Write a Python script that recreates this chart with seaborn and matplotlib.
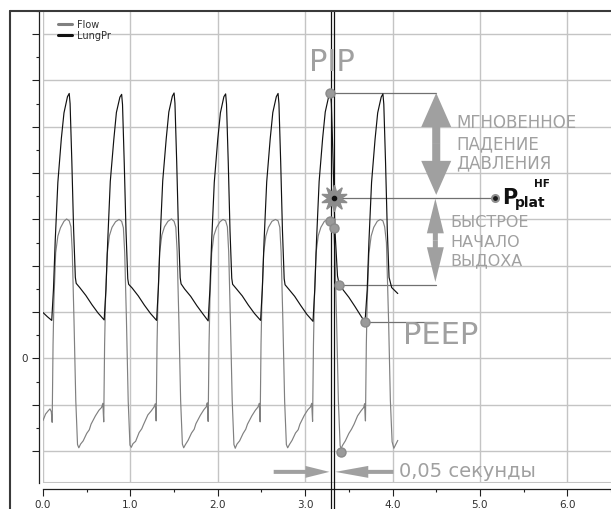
import matplotlib
matplotlib.use("Agg")
import matplotlib.pyplot as plt
from matplotlib.lines import Line2D
from matplotlib.patches import FancyArrowPatch
import seaborn as sns

# ---- traces (time in s, arbitrary units) ----
press_t = [0.00, 0.05, 0.10,
           0.12, 0.14, 0.17, 0.21, 0.24, 0.28, 0.30, 0.31, 0.33, 0.35, 0.37, 0.38, 0.42, 0.49, 0.56, 0.63, 0.70,
           0.72, 0.74, 0.77, 0.81, 0.84, 0.88, 0.90, 0.91, 0.93, 0.95, 0.97, 0.98, 1.02, 1.09, 1.16, 1.23, 1.30,
           1.32, 1.34, 1.37, 1.41, 1.44, 1.48, 1.50, 1.51, 1.53, 1.55, 1.57, 1.58, 1.62, 1.69, 1.76, 1.83, 1.89,
           1.91, 1.93, 1.96, 2.00, 2.03, 2.07, 2.09, 2.10, 2.12, 2.14, 2.16, 2.17, 2.21, 2.28, 2.35, 2.42, 2.49,
           2.51, 2.53, 2.56, 2.60, 2.63, 2.67, 2.69, 2.70, 2.72, 2.74, 2.76, 2.77, 2.81, 2.88, 2.95, 3.02, 3.09,
           3.11, 3.13, 3.16, 3.20, 3.23, 3.27, 3.29, 3.30, 3.32, 3.34, 3.37, 3.39, 3.43, 3.50, 3.57, 3.63, 3.685,
           3.71, 3.73, 3.76, 3.80, 3.83, 3.87, 3.89, 3.90, 3.92, 3.94, 3.96, 3.99, 4.06]
press_v = [9.9, 9.0, 8.2,
           15.0, 25.5, 38.0, 47.5, 53.0, 56.5, 57.2, 55.0, 42.5, 28.0, 17.5, 16.2, 15.3, 13.6, 11.6, 9.8, 8.3,
           14.8, 25.0, 38.2, 47.2, 53.1, 56.4, 57.0, 54.8, 42.0, 27.5, 17.2, 16.0, 15.2, 13.5, 11.5, 9.7, 8.2,
           15.1, 25.6, 38.3, 47.4, 53.2, 56.6, 57.3, 55.1, 42.4, 27.8, 17.4, 16.1, 15.0, 13.4, 11.4, 9.6, 8.1,
           14.9, 25.3, 38.0, 47.3, 53.0, 56.5, 57.1, 54.9, 42.3, 27.6, 17.3, 16.0, 15.1, 13.5, 11.5, 9.7, 8.2,
           15.0, 25.4, 38.1, 47.4, 53.1, 56.5, 57.2, 55.0, 42.4, 27.7, 17.2, 15.9, 15.0, 13.4, 11.4, 9.5, 8.0,
           14.9, 25.4, 38.2, 47.5, 53.2, 56.6, 57.3, 55.0, 42.5, 28.0, 17.8, 15.9, 14.9, 13.2, 11.2, 9.4, 7.8,
           14.8, 25.3, 38.0, 47.3, 53.0, 56.4, 57.1, 54.9, 42.3, 27.7, 17.5, 15.3, 14.0]

flow_t = [0.00, 0.03, 0.06, 0.08, 0.095, 0.105,
          0.115, 0.125, 0.145, 0.17, 0.20, 0.24, 0.27, 0.30, 0.32, 0.335, 0.355, 0.375, 0.395, 0.41, 0.43, 0.46,
          0.50, 0.53, 0.55, 0.60, 0.64, 0.67, 0.685, 0.695,
          0.705, 0.715, 0.735, 0.76, 0.79, 0.83, 0.87, 0.90, 0.92, 0.935, 0.955, 0.975, 0.995, 1.01, 1.03, 1.06,
          1.10, 1.13, 1.15, 1.20, 1.24, 1.27, 1.285, 1.295,
          1.305, 1.315, 1.335, 1.36, 1.39, 1.43, 1.47, 1.50, 1.52, 1.535, 1.555, 1.575, 1.595, 1.61, 1.63, 1.66,
          1.70, 1.73, 1.75, 1.80, 1.84, 1.87, 1.88, 1.89,
          1.90, 1.91, 1.93, 1.955, 1.985, 2.025, 2.06, 2.09, 2.11, 2.125, 2.145, 2.165, 2.185, 2.20, 2.22, 2.25,
          2.29, 2.32, 2.34, 2.39, 2.43, 2.46, 2.475, 2.485,
          2.495, 2.505, 2.525, 2.55, 2.58, 2.62, 2.66, 2.69, 2.71, 2.725, 2.745, 2.765, 2.785, 2.80, 2.82, 2.85,
          2.89, 2.92, 2.94, 2.99, 3.03, 3.06, 3.075, 3.085,
          3.095, 3.105, 3.125, 3.15, 3.18, 3.22, 3.26, 3.29, 3.325, 3.34, 3.36, 3.38, 3.40, 3.41, 3.43, 3.46,
          3.50, 3.53, 3.56, 3.60, 3.64, 3.67, 3.68, 3.69,
          3.70, 3.71, 3.73, 3.755, 3.785, 3.825, 3.86, 3.89, 3.91, 3.93, 3.955, 3.975, 3.995, 4.015, 4.06]
flow_v = [-13.4, -12.0, -11.3, -10.9, -11.5, -13.8,
          3.0, 12.5, 22.8, 26.4, 28.2, 29.6, 30.1, 29.7, 28.4, 23.0, 8.0, -9.0, -18.6, -19.3, -18.5, -17.8,
          -16.2, -15.4, -14.2, -12.4, -11.2, -10.6, -9.7, -13.7,
          3.0, 12.3, 22.6, 26.5, 28.3, 29.5, 30.0, 29.6, 28.2, 22.8, 8.2, -9.2, -18.7, -19.2, -18.4, -17.9,
          -16.0, -15.2, -14.3, -12.2, -11.3, -10.5, -9.8, -13.5,
          3.2, 12.6, 22.9, 26.6, 28.4, 29.6, 30.1, 29.6, 28.3, 23.1, 8.1, -9.1, -18.5, -19.3, -18.6, -17.7,
          -16.1, -15.3, -14.1, -12.3, -11.1, -10.4, -9.6, -13.6,
          3.0, 12.4, 22.7, 26.5, 28.2, 29.5, 30.0, 29.7, 28.4, 23.0, 8.0, -9.0, -18.6, -19.4, -18.5, -17.8,
          -16.2, -15.3, -14.2, -12.4, -11.2, -10.5, -9.7, -13.7,
          3.1, 12.5, 22.8, 26.4, 28.3, 29.6, 30.0, 29.7, 28.3, 22.9, 8.1, -9.1, -18.6, -19.3, -18.6, -17.7,
          -16.1, -15.4, -14.2, -12.3, -11.1, -10.5, -9.7, -13.6,
          3.0, 12.4, 22.8, 26.5, 28.3, 29.6, 30.0, 29.7, 28.4, 23.0, 8.0, -9.0, -18.8, -19.5, -18.7, -17.8,
          -16.2, -15.3, -14.2, -12.4, -11.3, -10.6, -9.8, -13.5,
          3.0, 12.4, 22.7, 26.4, 28.3, 29.6, 30.0, 29.7, 28.4, 25.0, 8.0, -9.0, -18.0, -19.4, -17.7]

x_ticks = [0, 1, 2, 3, 4, 5, 6]
x_labels = ["0.0", "1.0", "2.0", "3.0", "4.0", "5.0", "6.0"]
y_ticks = [-20, -10, 0, 10, 20, 30, 40, 50, 60, 70]
y_labels = ["", "", "0", "", "", "", "", "", "", ""]

# annotation points (picked on the 6th breath)
dot_t = [3.289, 3.289, 3.333, 3.388, 3.685, 3.41]
dot_v = [57.3, 29.7, 28.2, 15.9, 7.8, -20.3]
star_t, star_v = 3.333, 34.7
pplat_t = 5.17
cursor_t = [3.296, 3.333]
leaders = [(3.29, 4.50, 57.3), (3.34, 5.17, 34.7), (3.39, 4.50, 15.9), (3.69, 4.51, 7.8)]

grey = "#a0a0a0"

sns.set_theme(style="ticks")
plt.rcParams["font.family"] = ["DejaVu Sans"]

fig = plt.figure(figsize=(6.11, 5.09), dpi=100)
ax = fig.add_axes([43 / 611, 26 / 509, 568 / 611, 472 / 509])

sns.lineplot(x=flow_t, y=flow_v, color="#808080", lw=0.85, label="Flow", ax=ax, zorder=3)
sns.lineplot(x=press_t, y=press_v, color="#111111", lw=0.85, label="LungPr", ax=ax, zorder=4)

ax.set_xlim(0, 6.253)
ax.set_ylim(-26.9, 74.74)
ax.set_xticks(x_ticks)
ax.set_xticklabels(x_labels)
ax.set_xticks([i + 0.5 for i in x_ticks], minor=True)
ax.set_yticks(y_ticks)
ax.set_yticklabels(y_labels)
ax.set_yticks([v + 5 for v in y_ticks], minor=True)
ax.tick_params(which="major", length=5, width=0.8, color="#202020", labelsize=7.5,
               labelcolor="#303030", pad=3)
ax.tick_params(which="minor", length=2.5, width=0.8, color="#202020")
ax.set_xlabel("")
ax.set_ylabel("")
ax.grid(True, which="major", color="#c4c4c4", lw=1)
ax.set_axisbelow(True)
ax.axhline(-26.9, color="#c4c4c4", lw=1.5)
sns.despine(ax=ax, offset={"left": 3, "bottom": 4.3})
for s in ["left", "bottom"]:
    ax.spines[s].set_color("#202020")
    ax.spines[s].set_linewidth(0.9)

leg = ax.legend(loc="upper left", bbox_to_anchor=(0.02, 0.99), frameon=False, fontsize=7,
                handlelength=1.4, handletextpad=0.5, labelspacing=0.1, borderaxespad=0)
for h in leg.get_lines():
    h.set_linewidth(2.2)
for t in leg.get_texts():
    t.set_color("#303030")

# window frame
fig.add_artist(Line2D([9.5 / 611, 9.5 / 611], [0, 1 - 11 / 509], color="#3a3a3a", lw=1.5))
fig.add_artist(Line2D([9.5 / 611, 1], [1 - 11 / 509, 1 - 11 / 509], color="#3a3a3a", lw=1.5))

# cursor
for c in cursor_t:
    ax.axvline(c, ymin=-0.06, ymax=1, color="#111111", lw=0.9, clip_on=False, zorder=5)

# leader lines
for x0, x1, yv in leaders:
    ax.plot([x0, x1], [yv, yv], color="#707070", lw=0.9, zorder=2)

ax.plot(dot_t, dot_v, "o", ms=6.5, color="#9a9a9a", mec="#8a8a8a", zorder=6, clip_on=False)
ax.plot(star_t, star_v, marker=(10, 1, 0), ms=19, color="#8c8c8c", zorder=6)
ax.plot(star_t, star_v, "o", ms=3, color="#111111", zorder=7)
ax.plot(pplat_t, star_v, "o", ms=5, color="#1a1a1a", mec="#909090", mew=1.5, zorder=6, clip_on=False)


def arrow(p0, p1, hl, hw, tw):
    st = f"simple,head_length={hl},head_width={hw},tail_width={tw}"
    ax.add_patch(FancyArrowPatch(p0, p1, arrowstyle=st, mutation_scale=1, color=grey,
                                 lw=0, shrinkA=0, shrinkB=0, zorder=5, clip_on=False))


def double_arrow(x, y0, y1, hl, hw, tw):
    mid = (y0 + y1) / 2
    arrow((x, mid), (x, y0), hl, hw, tw)
    arrow((x, mid), (x, y1), hl, hw, tw)


double_arrow(4.50, 57.3, 35.3, 24.5, 21.6, 5.8)
double_arrow(4.49, 34.5, 16.5, 25, 12.2, 3.6)
arrow((2.64, -24.5), (3.278, -24.5), 17.3, 8.6, 2.9)
arrow((4.01, -24.5), (3.344, -24.5), 23.8, 8.6, 2.9)

txt = dict(color=grey, clip_on=False, zorder=6)
ax.text(3.31, 63.8, "PIP", fontsize=22, ha="center", va="center", **txt)
ax.text(4.73, 50.9, "МГНОВЕННОЕ", fontsize=12, ha="left", va="center", **txt)
ax.text(4.73, 46.3, "ПАДЕНИЕ", fontsize=12, ha="left", va="center", **txt)
ax.text(4.73, 42.2, "ДАВЛЕНИЯ", fontsize=12, ha="left", va="center", **txt)
ax.text(4.66, 29.3, "БЫСТРОЕ", fontsize=11.5, ha="left", va="center", **txt)
ax.text(4.66, 25.0, "НАЧАЛО", fontsize=11.5, ha="left", va="center", **txt)
ax.text(4.66, 21.1, "ВЫДОХА", fontsize=11.5, ha="left", va="center", **txt)
ax.text(4.125, 5.0, "PEEP", fontsize=22, ha="left", va="center", **txt)
ax.text(4.07, -24.5, "0,05 секунды", fontsize=14, ha="left", va="center", **txt)

ax.text(5.25, 33.4, "P", fontsize=15, fontweight="bold", color="#111111", va="baseline", clip_on=False)
ax.text(5.40, 32.6, "plat", fontsize=10, fontweight="bold", color="#111111", va="baseline", clip_on=False)
ax.text(5.62, 37.6, "HF", fontsize=7.5, fontweight="bold", color="#111111", va="center", clip_on=False)

fig.savefig("out.png", dpi=100)
